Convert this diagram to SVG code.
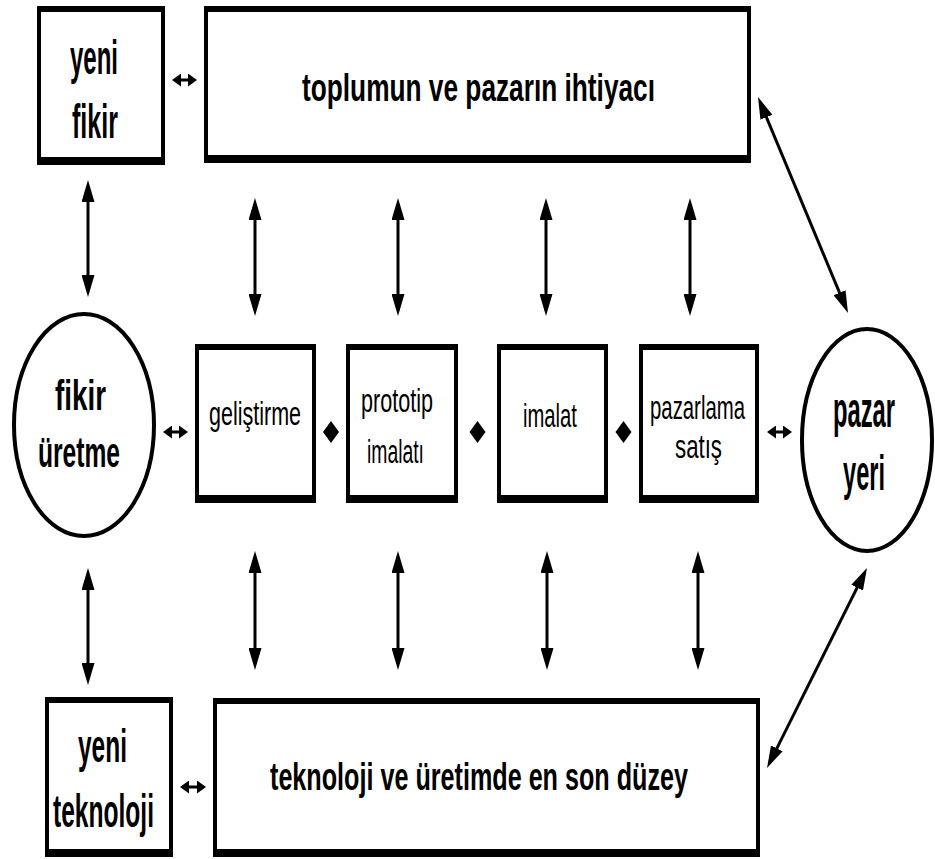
<svg xmlns="http://www.w3.org/2000/svg" width="935" height="859" viewBox="0 0 935 859">
<style>
.box{fill:#fff;stroke:#000;stroke-width:4}
.bar{fill:#000}
.ell{fill:#fff;stroke:#000;stroke-width:4}
.b{font-family:"Liberation Sans",Arial,sans-serif;font-weight:bold;fill:#000}
.r{font-family:"Liberation Sans",Arial,sans-serif;font-weight:normal;fill:#000}
.ln{stroke:#000;stroke-width:3;fill:none}
.lg{marker-start:url(#ah);marker-end:url(#ah)}
.sm{marker-start:url(#sa);marker-end:url(#sa)}
.dia{fill:#000}
</style>
<defs>
<marker id="ah" viewBox="0 0 22 13" refX="16" refY="6.5" markerWidth="22" markerHeight="13" markerUnits="userSpaceOnUse" orient="auto-start-reverse"><path d="M0,0 L22,6.5 L0,13 z" fill="#000"/></marker>
<marker id="sa" viewBox="0 0 9 13" refX="6" refY="6.5" markerWidth="9" markerHeight="13" markerUnits="userSpaceOnUse" orient="auto-start-reverse"><path d="M0,0 L9,6.5 L0,13 z" fill="#000"/></marker>
</defs>

<g id="yeni-fikir">
<rect class="box" x="39" y="8" width="124" height="155"/>
<rect class="bar" x="37" y="6" width="128" height="6"/>
<rect class="bar" x="37" y="157" width="128" height="8"/>
<text class="b" x="70" y="74" font-size="48" textLength="48" lengthAdjust="spacingAndGlyphs">yeni</text>
<text class="b" x="72" y="138" font-size="48" textLength="46" lengthAdjust="spacingAndGlyphs">fikir</text>
</g>

<g id="toplumun">
<rect class="box" x="206" y="8" width="543" height="153"/>
<rect class="bar" x="204" y="6" width="547" height="6"/>
<rect class="bar" x="204" y="155" width="547" height="8"/>
<text class="b" x="302" y="101" font-size="38" textLength="353" lengthAdjust="spacingAndGlyphs">toplumun ve pazarın ihtiyacı</text>
</g>

<g id="fikir-uretme">
<ellipse class="ell" cx="84" cy="425" rx="70" ry="111"/>
<text class="b" x="55" y="410" font-size="42" textLength="51" lengthAdjust="spacingAndGlyphs">fikir</text>
<text class="b" x="38" y="467" font-size="42" textLength="82" lengthAdjust="spacingAndGlyphs">üretme</text>
</g>

<g id="gelistirme">
<rect class="box" x="197" y="346" width="117" height="155"/>
<rect class="bar" x="195" y="344" width="121" height="6"/>
<rect class="bar" x="195" y="495" width="121" height="8"/>
<text class="r" x="209" y="425" font-size="34" textLength="92" lengthAdjust="spacingAndGlyphs">geliştirme</text>
</g>

<g id="prototip">
<rect class="box" x="348" y="346" width="108" height="155"/>
<rect class="bar" x="346" y="344" width="112" height="6"/>
<rect class="bar" x="346" y="495" width="112" height="8"/>
<text class="r" x="361" y="412" font-size="34" textLength="72" lengthAdjust="spacingAndGlyphs">prototip</text>
<text class="r" x="367" y="463" font-size="34" textLength="57" lengthAdjust="spacingAndGlyphs">imalatı</text>
</g>

<g id="imalat">
<rect class="box" x="499" y="346" width="107" height="155"/>
<rect class="bar" x="497" y="344" width="111" height="6"/>
<rect class="bar" x="497" y="495" width="111" height="8"/>
<text class="r" x="523" y="427" font-size="34" textLength="54" lengthAdjust="spacingAndGlyphs">imalat</text>
</g>

<g id="pazarlama">
<rect class="box" x="641" y="346" width="116" height="155"/>
<rect class="bar" x="639" y="344" width="120" height="6"/>
<rect class="bar" x="639" y="495" width="120" height="8"/>
<text class="r" x="650" y="419" font-size="34" textLength="95" lengthAdjust="spacingAndGlyphs">pazarlama</text>
<text class="r" x="675" y="458" font-size="34" textLength="47" lengthAdjust="spacingAndGlyphs">satış</text>
</g>

<g id="pazar-yeri">
<ellipse class="ell" cx="867" cy="440" rx="65" ry="111"/>
<text class="b" transform="translate(833,427) scale(1,1.39)" x="0" y="0" font-size="36" textLength="62" lengthAdjust="spacingAndGlyphs">pazar</text>
<text class="b" transform="translate(843,490) scale(1,1.39)" x="0" y="0" font-size="36" textLength="42" lengthAdjust="spacingAndGlyphs">yeri</text>
</g>

<g id="yeni-teknoloji">
<rect class="box" x="47" y="699" width="124" height="156"/>
<rect class="bar" x="45" y="697" width="128" height="6"/>
<rect class="bar" x="45" y="849" width="128" height="8"/>
<text class="b" x="78" y="762" font-size="46" textLength="49" lengthAdjust="spacingAndGlyphs">yeni</text>
<text class="b" x="53" y="827" font-size="46" textLength="101" lengthAdjust="spacingAndGlyphs">teknoloji</text>
</g>

<g id="teknoloji">
<rect class="box" x="215" y="700" width="543" height="155"/>
<rect class="bar" x="213" y="698" width="547" height="6"/>
<rect class="bar" x="213" y="849" width="547" height="8"/>
<text class="b" x="270" y="790" font-size="38" textLength="418" lengthAdjust="spacingAndGlyphs">teknoloji ve üretimde en son düzey</text>
</g>

<g id="connectors">
<line class="ln lg" x1="88" y1="186" x2="88" y2="291"/>
<line class="ln lg" x1="88" y1="574" x2="88" y2="679"/>
<line class="ln lg" x1="255" y1="204" x2="255" y2="310"/>
<line class="ln lg" x1="398" y1="204" x2="398" y2="310"/>
<line class="ln lg" x1="546" y1="204" x2="546" y2="310"/>
<line class="ln lg" x1="690" y1="204" x2="690" y2="310"/>
<line class="ln lg" x1="255" y1="557" x2="255" y2="664"/>
<line class="ln lg" x1="398" y1="557" x2="398" y2="664"/>
<line class="ln lg" x1="547" y1="557" x2="547" y2="664"/>
<line class="ln lg" x1="698" y1="557" x2="698" y2="664"/>
<line class="ln lg" x1="760.3" y1="102.5" x2="845.7" y2="307.5"/>
<line class="ln lg" x1="864.3" y1="573.4" x2="769.7" y2="762.6"/>
<line class="ln sm" x1="175" y1="80" x2="194" y2="80"/>
<line class="ln sm" x1="166" y1="432" x2="185" y2="432"/>
<line class="ln sm" x1="770" y1="432" x2="789" y2="432"/>
<line class="ln sm" x1="183" y1="787" x2="203" y2="787"/>
<polygon class="dia" points="331,421 339,432 331,443 323,432"/>
<polygon class="dia" points="477.5,421 485.5,432 477.5,443 469.5,432"/>
<polygon class="dia" points="623.5,421 631.5,432 623.5,443 615.5,432"/>
</g>
</svg>
